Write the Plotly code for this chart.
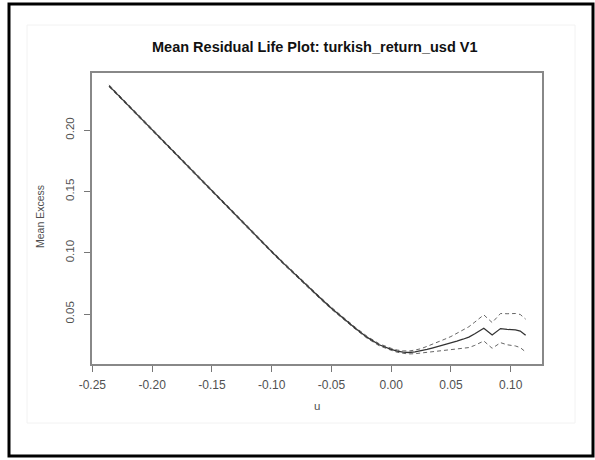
import plotly.graph_objects as go

# Threshold u values
u = [-0.236, -0.22, -0.20, -0.18, -0.16, -0.14, -0.12, -0.10, -0.09, -0.08,
     -0.07, -0.06, -0.05, -0.04, -0.03, -0.02, -0.01, 0.00, 0.005, 0.01,
     0.015, 0.02, 0.025, 0.03, 0.035, 0.04, 0.045, 0.05, 0.055, 0.06,
     0.065, 0.07, 0.0775, 0.0845, 0.0915, 0.097, 0.104, 0.108, 0.1125]

# Mean excess
mean_excess = [0.2362, 0.2202, 0.2001, 0.1801, 0.1602, 0.1403, 0.1205, 0.1010, 0.0914, 0.0820,
               0.0728, 0.0637, 0.0548, 0.0465, 0.0385, 0.0310, 0.0250, 0.0213, 0.0198, 0.0190,
               0.0187, 0.0192, 0.0200, 0.0212, 0.0225, 0.0238, 0.0250, 0.0262, 0.0280, 0.0295,
               0.0312, 0.0340, 0.0385, 0.0330, 0.0382, 0.0375, 0.0372, 0.0362, 0.0328]

# Upper confidence limit
upper = [0.2370, 0.2210, 0.2009, 0.1809, 0.1610, 0.1411, 0.1213, 0.1018, 0.0922, 0.0828,
         0.0736, 0.0645, 0.0556, 0.0473, 0.0393, 0.0318, 0.0258, 0.0221, 0.0207, 0.0200,
         0.0199, 0.0207, 0.0218, 0.0237, 0.0255, 0.0276, 0.0296, 0.0317, 0.0343, 0.0370,
         0.0397, 0.0435, 0.0494, 0.0431, 0.0505, 0.0503, 0.0505, 0.0497, 0.0459]

# Lower confidence limit
lower = [0.2354, 0.2194, 0.1993, 0.1793, 0.1594, 0.1395, 0.1197, 0.1002, 0.0906, 0.0812,
         0.0720, 0.0629, 0.0540, 0.0457, 0.0377, 0.0302, 0.0242, 0.0205, 0.0189, 0.0180,
         0.0175, 0.0177, 0.0182, 0.0187, 0.0195, 0.0200, 0.0204, 0.0207, 0.0217, 0.0220,
         0.0227, 0.0245, 0.0281, 0.0221, 0.0267, 0.0250, 0.0240, 0.0227, 0.0191]

x_ticks = [-0.25, -0.20, -0.15, -0.10, -0.05, 0.00, 0.05, 0.10]
x_tick_labels = ["-0.25", "-0.20", "-0.15", "-0.10", "-0.05", "0.00", "0.05", "0.10"]
y_ticks = [0.05, 0.10, 0.15, 0.20]
y_tick_labels = ["0.05", "0.10", "0.15", "0.20"]

title_text = "Mean Residual Life Plot: turkish_return_usd V1"
x_label = "u"
y_label = "Mean Excess"

W, H = 595, 460
def px(x):
    return x / W
def py(y):
    return 1 - y / H

fig = go.Figure()
fig.add_trace(go.Scatter(x=u, y=upper, mode="lines",
                         line=dict(color="#666666", width=1, dash="4px,3px"),
                         showlegend=False, hoverinfo="skip"))
fig.add_trace(go.Scatter(x=u, y=lower, mode="lines",
                         line=dict(color="#666666", width=1, dash="4px,3px"),
                         showlegend=False, hoverinfo="skip"))
fig.add_trace(go.Scatter(x=u, y=mean_excess, mode="lines",
                         line=dict(color="#333333", width=1.3),
                         showlegend=False))

font_family = "Liberation Sans, Arial, sans-serif"
tick_col = "#505050"

fig.update_layout(
    width=W, height=H,
    margin=dict(l=0, r=0, t=0, b=0, autoexpand=False),
    paper_bgcolor="white", plot_bgcolor="white",
    font=dict(family=font_family, color=tick_col),
    xaxis=dict(domain=[px(92), px(542)], range=[-0.2503, 0.1262],
               tickvals=x_ticks, ticktext=x_tick_labels,
               ticks="outside", ticklen=6, tickcolor="#777777", tickwidth=1,
               ticklabelstandoff=3,
               showline=True, linecolor="#888888", linewidth=1.5, mirror=True,
               showgrid=False, zeroline=False, automargin=False,
               tickfont=dict(size=12, color=tick_col)),
    yaxis=dict(domain=[py(364), py(73)], range=[0.0093, 0.2467],
               tickvals=y_ticks, ticktext=y_tick_labels,
               ticks="outside", ticklen=6, tickcolor="#777777", tickwidth=1,
               tickangle=-90, ticklabelstandoff=6,
               showline=True, linecolor="#888888", linewidth=1.5, mirror=True,
               showgrid=False, zeroline=False, automargin=False,
               tickfont=dict(size=11.5, color=tick_col)),
    annotations=[
        dict(text="<b>" + title_text + "</b>", x=px(315), y=py(47), xref="paper", yref="paper",
             showarrow=False, xanchor="center", yanchor="middle",
             font=dict(size=14.5, color="#111111", family=font_family)),
        dict(text=x_label, x=px(317), y=py(406), xref="paper", yref="paper",
             showarrow=False, xanchor="center", yanchor="middle",
             font=dict(size=11.5, color=tick_col, family=font_family)),
        dict(text=y_label, x=px(40), y=py(217), xref="paper", yref="paper",
             showarrow=False, xanchor="center", yanchor="middle", textangle=-90,
             font=dict(size=10.5, color=tick_col, family=font_family)),
    ],
    shapes=[
        dict(type="rect", xref="paper", yref="paper",
             x0=px(27), x1=px(575), y0=py(423), y1=py(25),
             line=dict(color="#f2f2f2", width=1)),
        dict(type="rect", xref="paper", yref="paper",
             x0=px(9), x1=px(593), y0=py(456), y1=py(4),
             line=dict(color="black", width=3)),
    ],
)

fig.write_html("out.html")
